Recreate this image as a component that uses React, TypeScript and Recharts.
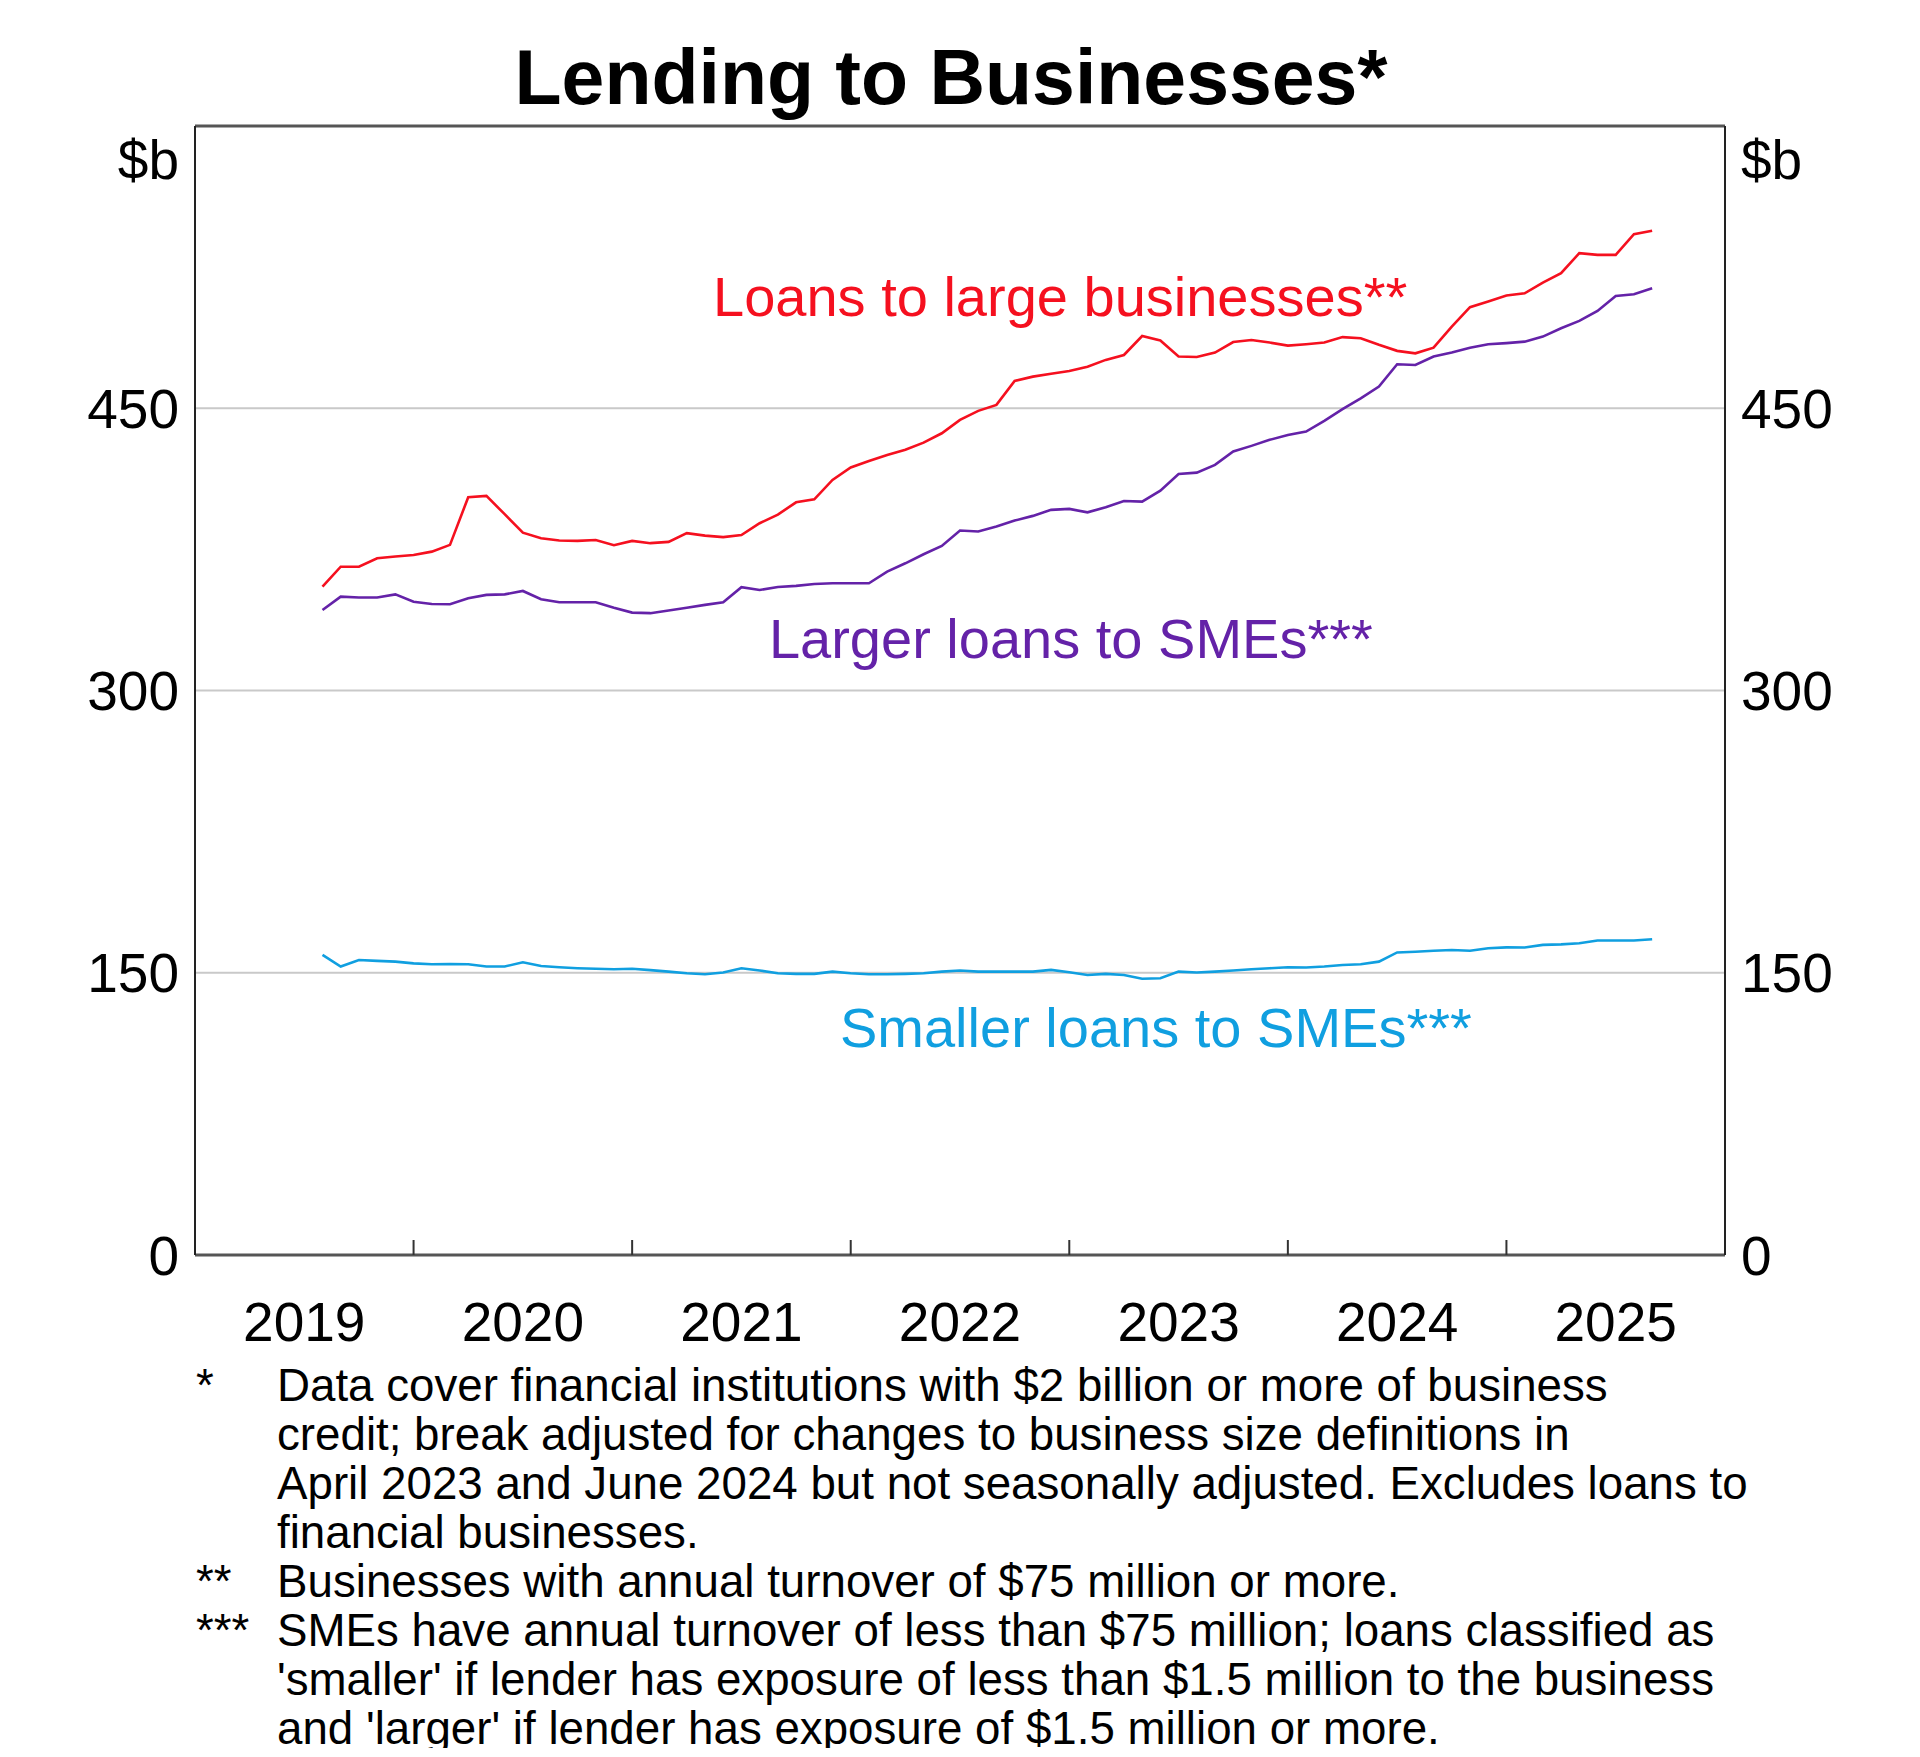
import React from "react";
import {
  LineChart,
  Line,
  XAxis,
  YAxis,
  CartesianGrid,
  ReferenceLine,
  ReferenceDot,
} from "recharts";

// ---------- DATA ----------
const months = [
  "2019-07", "2019-08", "2019-09", "2019-10", "2019-11", "2019-12",
  "2020-01", "2020-02", "2020-03", "2020-04", "2020-05", "2020-06",
  "2020-07", "2020-08", "2020-09", "2020-10", "2020-11", "2020-12",
  "2021-01", "2021-02", "2021-03", "2021-04", "2021-05", "2021-06",
  "2021-07", "2021-08", "2021-09", "2021-10", "2021-11", "2021-12",
  "2022-01", "2022-02", "2022-03", "2022-04", "2022-05", "2022-06",
  "2022-07", "2022-08", "2022-09", "2022-10", "2022-11", "2022-12",
  "2023-01", "2023-02", "2023-03", "2023-04", "2023-05", "2023-06",
  "2023-07", "2023-08", "2023-09", "2023-10", "2023-11", "2023-12",
  "2024-01", "2024-02", "2024-03", "2024-04", "2024-05", "2024-06",
  "2024-07", "2024-08", "2024-09", "2024-10", "2024-11", "2024-12",
  "2025-01", "2025-02", "2025-03", "2025-04", "2025-05", "2025-06",
  "2025-07", "2025-08",
];

const loansToLargeBusinesses = [
  355.2, 365.8, 365.8, 370.3, 371.2, 372.0, 373.8, 377.4, 402.7, 403.4,
  393.7, 383.9, 380.9, 379.7, 379.5, 380.0, 377.2, 379.5, 378.3, 379.0,
  383.6, 382.3, 381.5, 382.6, 388.9, 393.5, 400.0, 401.6, 411.9, 418.5,
  422.0, 425.2, 427.9, 431.7, 436.7, 443.8, 448.6, 451.8, 464.5, 466.8,
  468.3, 469.8, 472.1, 475.7, 478.3, 488.4, 486.0, 477.5, 477.2, 479.6,
  485.2, 486.3, 484.9, 483.3, 484.0, 484.9, 487.8, 487.2, 483.7, 480.5,
  479.2, 482.2, 493.4, 503.7, 506.7, 509.9, 511.1, 516.8, 521.8, 532.4,
  531.5, 531.5, 542.5, 544.3,
];

const largerLoansToSMEs = [
  342.8, 349.9, 349.4, 349.4, 351.1, 347.2, 346.0, 345.8, 349.0, 350.8,
  351.1, 352.9, 348.5, 346.9, 346.9, 346.9, 344.0, 341.4, 341.1, 342.5,
  344.0, 345.5, 346.9, 354.9, 353.4, 355.0, 355.6, 356.6, 357.0, 357.0,
  357.0, 363.2, 367.6, 372.4, 376.8, 385.0, 384.5, 387.1, 390.3, 392.8,
  396.0, 396.5, 394.7, 397.4, 400.7, 400.4, 406.2, 415.1, 415.8, 419.9,
  427.0, 430.0, 433.2, 435.8, 437.6, 443.3, 449.5, 455.3, 461.5, 473.4,
  473.0, 477.5, 479.6, 482.2, 484.0, 484.6, 485.4, 488.1, 492.5, 496.4,
  501.7, 509.7, 510.6, 513.8,
];

const smallerLoansToSMEs = [
  159.5, 153.3, 156.8, 156.3, 155.9, 155.0, 154.5, 154.6, 154.5, 153.3,
  153.3, 155.6, 153.6, 152.9, 152.4, 152.1, 151.9, 152.1, 151.4, 150.6,
  149.7, 149.2, 150.1, 152.4, 151.2, 149.7, 149.4, 149.4, 150.6, 149.7,
  149.2, 149.2, 149.4, 149.7, 150.6, 151.2, 150.6, 150.6, 150.6, 150.6,
  151.5, 150.3, 148.8, 149.4, 148.8, 146.8, 147.1, 150.6, 150.1, 150.6,
  151.2, 151.9, 152.4, 152.9, 152.8, 153.3, 154.1, 154.5, 155.9, 160.8,
  161.2, 161.7, 162.1, 161.7, 163.0, 163.5, 163.4, 164.8, 165.1, 165.7,
  167.1, 167.1, 167.1, 167.8,
];

const yearLabels = ["2019", "2020", "2021", "2022", "2023", "2024", "2025"];
const yTicks = [0, 150, 300, 450, 600];
const gridValues = [150, 300, 450];

const seriesLabels = [
  { text: "Loans to large businesses**", x: 28.44, y: 499.1, color: "#f5101f" },
  { text: "Larger loans to SMEs***", x: 31.51, y: 317.5, color: "#6422a8" },
  { text: "Smaller loans to SMEs***", x: 35.41, y: 110.6, color: "#109fe0" },
];

const footnotes = [
  { mark: "*", lines: [
    "Data cover financial institutions with $2 billion or more of business",
    "credit; break adjusted for changes to business size definitions in",
    "April 2023 and June 2024 but not seasonally adjusted. Excludes loans to",
    "financial businesses.",
  ] },
  { mark: "**", lines: ["Businesses with annual turnover of $75 million or more."] },
  { mark: "***", lines: [
    "SMEs have annual turnover of less than $75 million; loans classified as",
    "'smaller' if lender has exposure of less than $1.5 million to the business",
    "and 'larger' if lender has exposure of $1.5 million or more.",
  ] },
];

// ---------- DERIVED ----------
const monthIndex = (m: string) => {
  const [y, mo] = m.split("-").map(Number);
  return (y - 2019) * 12 + mo;
};

const data = months.map((m, i) => ({
  x: monthIndex(m),
  large: loansToLargeBusinesses[i],
  larger: largerLoansToSMEs[i],
  smaller: smallerLoansToSMEs[i],
}));

const xTicks: number[] = [];
yearLabels.forEach((_, i) => {
  xTicks.push(i * 12 + 6);
  if (i > 0) xTicks.push(i * 12);
});
xTicks.sort((a, b) => a - b);

const FONT = "'Liberation Sans', Arial, Helvetica, sans-serif";

const XTick = (props: any) => {
  const { x, y, payload } = props;
  const v = payload.value as number;
  if (v % 12 === 0) {
    return <line x1={x} x2={x} y1={y} y2={y - 15} stroke="#333" strokeWidth={2} />;
  }
  const label = yearLabels[Math.round((v - 6) / 12)];
  return (
    <text x={x} y={y + 86} textAnchor="middle" fontSize={55} fill="#000" fontFamily={FONT}>
      {label}
    </text>
  );
};

const makeYTick = (anchor: "start" | "end") => (props: any) => {
  const { x, y, payload } = props;
  const isTop = payload.value === 600;
  return (
    <text
      x={x}
      y={isTop ? y + 33 : y}
      dy="0.355em"
      textAnchor={anchor}
      fontSize={55}
      fill="#000"
      fontFamily={FONT}
    >
      {isTop ? "$b" : payload.value}
    </text>
  );
};

const LeftTick = makeYTick("end");
const RightTick = makeYTick("start");

export default function App() {
  return (
    <div style={{ position: "relative", width: 1904, height: 1740, fontFamily: FONT, background: "#fff" }}>
      <div
        style={{
          position: "absolute",
          top: 31,
          left: 0,
          width: 1886,
          textAlign: "center",
          fontSize: 77,
          lineHeight: "77px",
          fontWeight: 700,
          color: "#000",
          whiteSpace: "nowrap",
        }}
      >
        Lending to Businesses*
      </div>
      <div style={{ position: "absolute", top: 0, left: 0 }}>
        <LineChart
          width={1904}
          height={1370}
          data={data}
          margin={{ top: 118, right: 87, bottom: 63, left: 87 }}
        >
          <CartesianGrid
            yAxisId="left"
            vertical={false}
            horizontalValues={gridValues}
            stroke="#c9c9c9"
            strokeWidth={2}
          />
          <XAxis
            dataKey="x"
            type="number"
            domain={[0, 84]}
            ticks={xTicks}
            interval={0}
            allowDataOverflow
            tickLine={false}
            tickSize={0}
            tickMargin={0}
            height={60}
            axisLine={{ stroke: "#555", strokeWidth: 3 }}
            tick={<XTick />}
          />
          <YAxis
            yAxisId="left"
            orientation="left"
            type="number"
            domain={[0, 600]}
            ticks={yTicks}
            interval={0}
            allowDataOverflow
            width={100}
            tickLine={false}
            tickSize={0}
            tickMargin={16}
            axisLine={{ stroke: "#222", strokeWidth: 2 }}
            tick={<LeftTick />}
          />
          <YAxis
            yAxisId="right"
            orientation="right"
            type="number"
            domain={[0, 600]}
            ticks={yTicks}
            interval={0}
            allowDataOverflow
            width={100}
            tickLine={false}
            tickSize={0}
            tickMargin={16}
            axisLine={{ stroke: "#222", strokeWidth: 2 }}
            tick={<RightTick />}
          />
          <ReferenceLine yAxisId="left" y={600} stroke="#555" strokeWidth={3} />
          <Line
            yAxisId="left"
            type="linear"
            dataKey="large"
            stroke="#f5101f"
            strokeWidth={2.6}
            dot={false}
            isAnimationActive={false}
          />
          <Line
            yAxisId="left"
            type="linear"
            dataKey="larger"
            stroke="#6422a8"
            strokeWidth={2.6}
            dot={false}
            isAnimationActive={false}
          />
          <Line
            yAxisId="right"
            type="linear"
            dataKey="smaller"
            stroke="#109fe0"
            strokeWidth={2.6}
            dot={false}
            isAnimationActive={false}
          />
          {seriesLabels.map((s) => (
            <ReferenceDot
              key={s.text}
              yAxisId="left"
              x={s.x}
              y={s.y}
              r={0}
              fill="none"
              stroke="none"
              ifOverflow="visible"
              label={(p: any) => (
                <text
                  x={p.viewBox.x}
                  y={p.viewBox.y}
                  textAnchor="start"
                  fontSize={56}
                  fill={s.color}
                  fontFamily={FONT}
                >
                  {s.text}
                </text>
              )}
            />
          ))}
        </LineChart>
      </div>
      <div style={{ position: "absolute", top: 1353, left: 0, fontSize: 45.7, lineHeight: "49px", color: "#000" }}>
        {footnotes.map((f) =>
          f.lines.map((line, i) => (
            <div key={f.mark + i} style={{ position: "relative", height: 49, whiteSpace: "nowrap" }}>
              {i === 0 ? <span style={{ position: "absolute", left: 188 }}>{f.mark}</span> : null}
              <span style={{ position: "absolute", left: 269 }}>{line}</span>
            </div>
          ))
        )}
      </div>
    </div>
  );
}
